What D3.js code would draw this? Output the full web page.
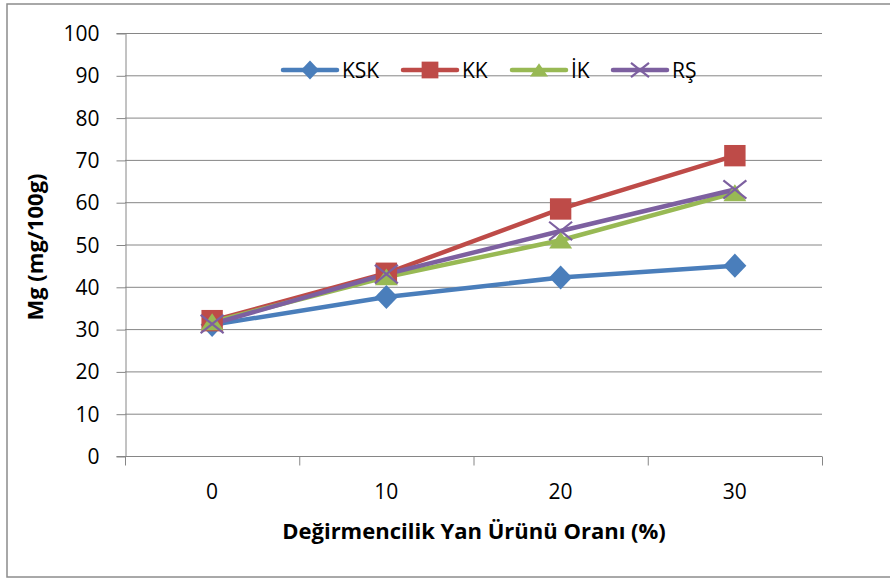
<!DOCTYPE html>
<html>
<head>
<meta charset="utf-8">
<script src="https://cdn.jsdelivr.net/npm/d3@7"></script>
<style>
  html, body { margin: 0; padding: 0; background: #fff; }
  svg { display: block; font-family: "Open Sans", "Liberation Sans", sans-serif; }
</style>
</head>
<body>
<svg id="chart" width="890" height="580"></svg>
<script>
// Mg content by mill by-product ratio
const categories = ["0", "10", "20", "30"];
const seriesNames = ["KSK", "KK", "İK", "RŞ"];
const ksk = [31, 37.6, 42.2, 45];
const kk  = [32, 43.2, 58.4, 71];
const ik  = [31.7, 42.3, 51, 62.2];
const rs  = [31.2, 43, 53.2, 63];
const yTicks = [0, 10, 20, 30, 40, 50, 60, 70, 80, 90, 100];
const colors = ["#4a7ebb", "#be4b48", "#98b954", "#7d60a0"];
const markers = ["diamond", "square", "triangle", "cross"];

const series = seriesNames.map((name, i) => ({
  name, values: [ksk, kk, ik, rs][i], color: colors[i], marker: markers[i]
}));

const svg = d3.select("#chart");
const margin = { left: 125, right: 822, top: 33, bottom: 456 };

// outer frame
svg.append("rect").attr("x", 7).attr("y", 4).attr("width", 890).attr("height", 573)
  .attr("fill", "none").attr("stroke", "#8c8c8c").attr("stroke-width", 1.5);

const x = d3.scaleBand().domain(categories).range([margin.left, margin.right]).paddingInner(0).paddingOuter(0);
const y = d3.scaleLinear().domain([0, 100]).range([margin.bottom, margin.top]);

// horizontal gridlines
svg.append("g").selectAll("line").data(yTicks).join("line")
  .attr("x1", margin.left).attr("x2", margin.right)
  .attr("y1", d => y(d) + 0.5).attr("y2", d => y(d) + 0.5)
  .attr("stroke", "#868686").attr("stroke-width", 1);

// y axis
const yAxis = svg.append("g").attr("transform", `translate(${margin.left + 0.5},0)`)
  .call(d3.axisLeft(y).tickValues(yTicks).tickSize(9).tickPadding(17));
yAxis.select(".domain").attr("stroke", "#868686");
yAxis.selectAll(".tick line").attr("stroke", "#868686").attr("transform", "translate(0,0.5)");
yAxis.selectAll(".tick text").attr("font-size", 21).attr("fill", "#000")
  .attr("font-family", "'Open Sans', sans-serif").attr("dy", "0.36em");

// x axis (ticks between categories)
const xAxisG = svg.append("g").attr("transform", `translate(0,${margin.bottom + 0.5})`);
xAxisG.append("line").attr("x1", margin.left).attr("x2", margin.right)
  .attr("stroke", "#868686");
const boundaries = categories.map(c => x(c)).concat([x(categories[categories.length - 1]) + x.bandwidth()]);
xAxisG.selectAll("line.tk").data(boundaries).join("line").attr("class", "tk")
  .attr("x1", d => d + 0.5).attr("x2", d => d + 0.5).attr("y1", 0).attr("y2", 9)
  .attr("stroke", "#868686");
xAxisG.selectAll("text").data(categories).join("text")
  .attr("x", d => x(d) + x.bandwidth() / 2).attr("y", 42)
  .attr("text-anchor", "middle").attr("font-size", 21).attr("fill", "#000")
  .text(d => d);

// axis titles
svg.append("text").attr("x", 474).attr("y", 539).attr("text-anchor", "middle")
  .attr("font-size", 22).attr("font-weight", "bold").attr("fill", "#000")
  .text("Değirmencilik Yan Ürünü Oranı (%)");
svg.append("text").attr("transform", "translate(43,247) rotate(-90)").attr("text-anchor", "middle")
  .attr("font-size", 22).attr("font-weight", "bold").attr("fill", "#000")
  .text("Mg (mg/100g)");

const cx = c => x(c) + x.bandwidth() / 2;

function drawMarker(g, type, color, size) {
  const s = size / 2;
  if (type === "diamond") {
    g.append("path").attr("d", `M0,${-s * 1.05}L${s},0L0,${s * 1.05}L${-s},0Z`).attr("fill", color);
  } else if (type === "square") {
    g.append("rect").attr("x", -s * 0.93).attr("y", -s * 0.93).attr("width", size * 0.93).attr("height", size * 0.93).attr("fill", color);
  } else if (type === "triangle") {
    g.append("path").attr("d", `M0,${-s * 0.75}L${s},${s * 0.72}L${-s},${s * 0.72}Z`).attr("fill", color);
  } else {
    g.append("path").attr("d", `M${-s},${-s * 0.8}L${s},${s * 0.8}M${s},${-s * 0.8}L${-s},${s * 0.8}`)
      .attr("stroke", color).attr("stroke-width", 2.2).attr("fill", "none");
  }
}

// series lines + markers
const line = d3.line().x((d, i) => cx(categories[i])).y(d => y(d));
series.forEach(s => {
  svg.append("path").datum(s.values).attr("d", line)
    .attr("fill", "none").attr("stroke", s.color).attr("stroke-width", 4.5)
    .attr("stroke-linejoin", "round").attr("stroke-linecap", "round");
});
series.forEach(s => {
  s.values.forEach((v, i) => {
    const g = svg.append("g").attr("transform", `translate(${cx(categories[i])},${y(v)})`);
    drawMarker(g, s.marker, s.color, 23);
  });
});

// legend
const legendX = [283, 403, 512, 613];
series.forEach((s, i) => {
  const g = svg.append("g").attr("transform", `translate(${legendX[i]},70)`);
  g.append("line").attr("x1", 0).attr("x2", 54).attr("stroke", s.color)
    .attr("stroke-width", 4.5).attr("stroke-linecap", "round");
  const m = g.append("g").attr("transform", "translate(27,0)");
  drawMarker(m, s.marker, s.color, 18);
  g.append("text").attr("x", 59).attr("y", 0).attr("dy", "0.36em")
    .attr("font-size", 21).attr("fill", "#000").text(s.name);
});
</script>
</body>
</html>
